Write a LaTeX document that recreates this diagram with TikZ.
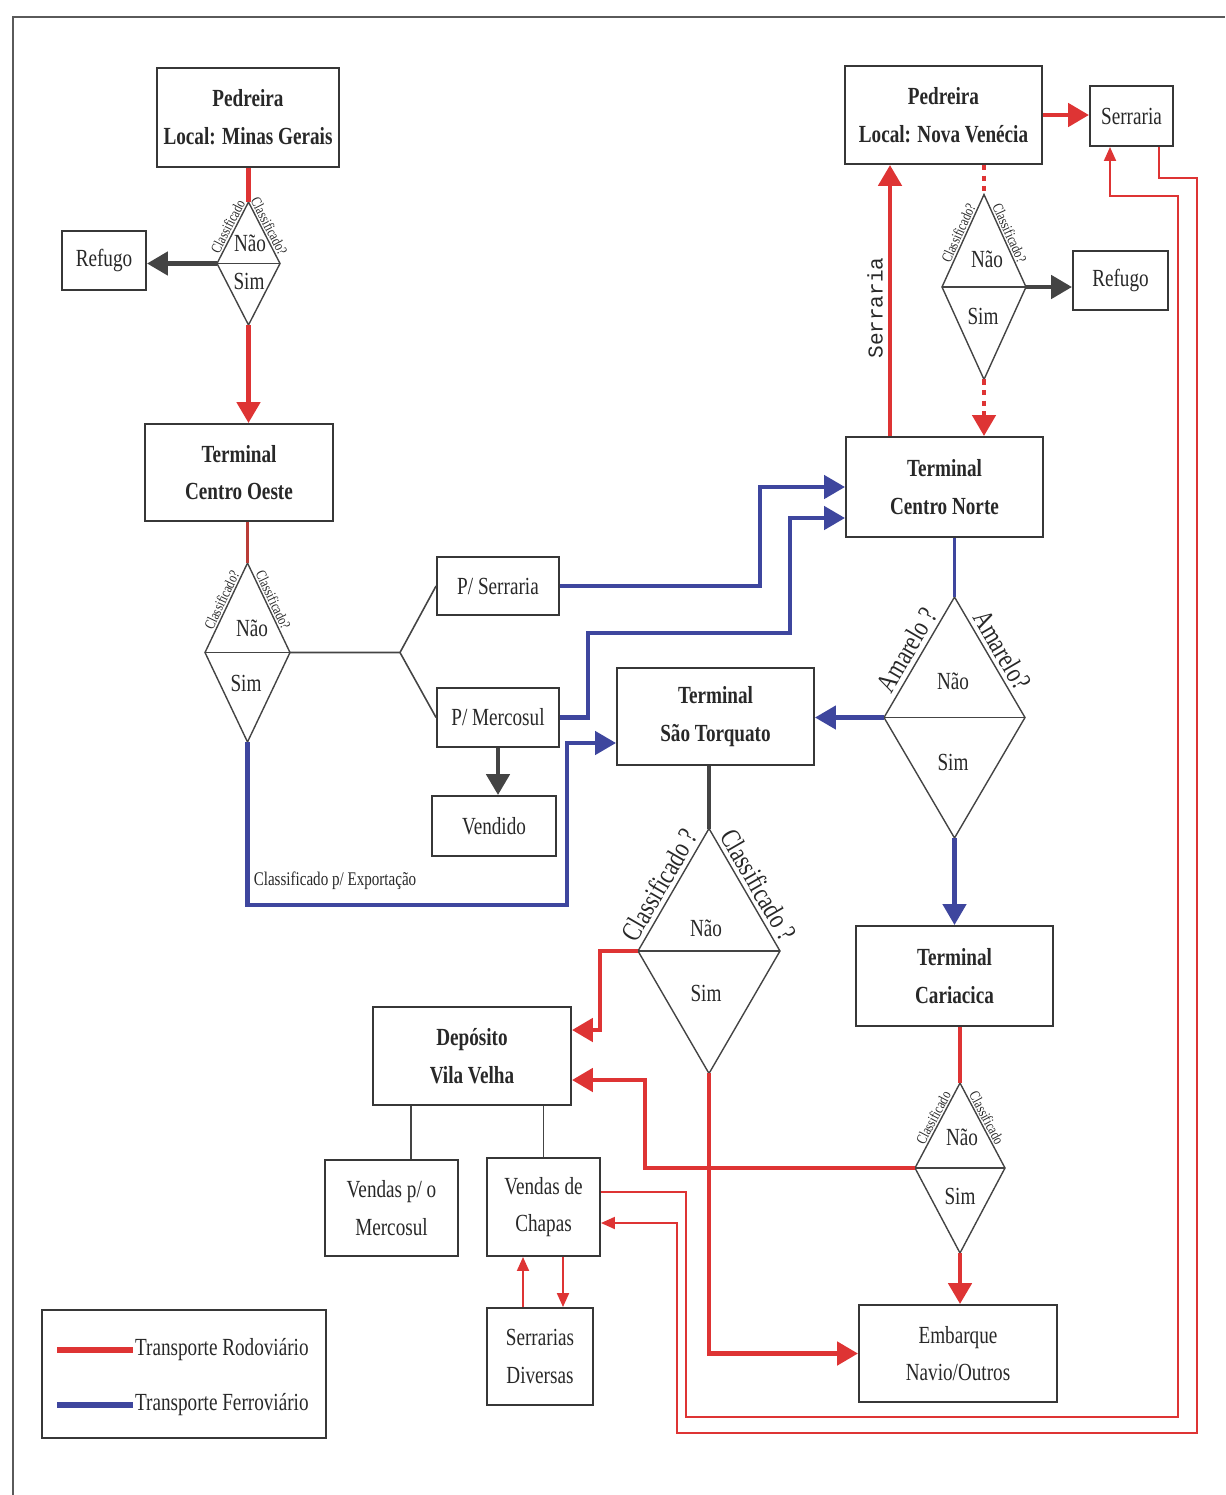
\documentclass[tikz,border=0pt]{standalone}
\usepackage{fontspec}
\setmainfont{Liberation Serif}[FakeStretch=0.78]
\newfontfamily\monof{Liberation Mono}
\usetikzlibrary{arrows.meta,shapes.geometric,calc}
\definecolor{rd}{RGB}{222,52,52}
\definecolor{bl}{RGB}{62,70,158}
\definecolor{dk}{RGB}{68,68,68}
\definecolor{bc}{RGB}{55,55,55}
\definecolor{tx}{RGB}{40,40,40}
\definecolor{fr}{RGB}{90,90,90}
\definecolor{brd}{RGB}{185,60,55}
\newcommand\msz{\fontsize{14}{21.5}\selectfont}
\newcommand\ssz{\fontsize{11}{13}\selectfont}
\newcommand\tsz{\fontsize{8.5}{10}\selectfont}
\newcommand\lsz{\fontsize{16}{18}\selectfont}
\begin{document}
\begin{tikzpicture}[x=0.02cm,y=-0.02cm,
  box/.style={draw=bc,line width=1.1pt,inner sep=0pt,align=center,text=tx,font=\msz},
  bbox/.style={box,font=\msz\bfseries},
  dia/.style={diamond,draw=dk,line width=0.8pt,inner sep=0pt,outer sep=0pt},
  lbl/.style={text=tx,font=\msz,inner sep=0pt},
  elbl/.style={text=tx,font=\tsz,inner sep=1pt,sloped,above},
  blbl/.style={text=tx,font=\lsz,inner sep=2.5pt,sloped,above},
  big/.style={-{Triangle[length=0.42cm,width=0.46cm]}},
  sml/.style={-{Triangle[length=0.28cm,width=0.24cm]}},
  redt/.style={rd,line width=2.8pt},
  bluet/.style={bl,line width=2.6pt},
  dkt/.style={dk,line width=2.8pt},
  redn/.style={rd,line width=1.1pt},
  thinl/.style={dk,line width=0.9pt}
]
\useasboundingbox (0,0) rectangle (1225,1495);
% frame
\coordinate (f1) at (13,17); \coordinate (f2) at (1225,17); \coordinate (f3) at (13,1495);
\draw[fr,line width=1.6pt] (f3) -- (f1) -- (f2);

% boxes
\node[bbox,minimum width=3.64cm,minimum height=1.98cm] (pmg) at (248,117.5) {Pedreira\\Local: Minas Gerais};
\node[box,minimum width=1.68cm,minimum height=1.18cm] (refL) at (104,260.5) {Refugo};
\node[bbox,minimum width=3.76cm,minimum height=1.94cm] (tco) at (239,472.5) {Terminal\\Centro Oeste};
\node[box,minimum width=2.44cm,minimum height=1.16cm] (pser) at (498,586) {P/ Serraria};
\node[box,minimum width=2.44cm,minimum height=1.18cm] (pmer) at (498,717.5) {P/ Mercosul};
\node[box,minimum width=2.48cm,minimum height=1.2cm] (vend) at (494,826) {Vendido};
\node[bbox,minimum width=3.94cm,minimum height=1.96cm] (pnv) at (943.5,115) {Pedreira\\Local: Nova Venécia};
\node[box,minimum width=1.66cm,minimum height=1.2cm] (serr) at (1131.5,116) {Serraria};
\node[box,minimum width=1.9cm,minimum height=1.18cm] (refR) at (1120.5,280.5) {Refugo};
\node[bbox,minimum width=3.94cm,minimum height=2cm] (tcn) at (944.5,487) {Terminal\\Centro Norte};
\node[bbox,minimum width=3.94cm,minimum height=1.94cm] (tst) at (715.5,716.5) {Terminal\\São Torquato};
\node[bbox,minimum width=3.94cm,minimum height=2cm] (tca) at (954.5,976) {Terminal\\Cariacica};
\node[bbox,minimum width=3.96cm,minimum height=1.96cm] (dep) at (472,1056) {Depósito\\Vila Velha};
\node[box,minimum width=2.66cm,minimum height=1.92cm] (vpm) at (391.5,1208) {Vendas p/ o\\Mercosul};
\node[box,minimum width=2.26cm,minimum height=1.96cm] (vch) at (543.5,1207) {Vendas de\\Chapas};
\node[box,minimum width=2.12cm,minimum height=1.94cm] (sdv) at (540,1356.5) {Serrarias\\Diversas};
\node[box,minimum width=3.96cm,minimum height=1.94cm] (emb) at (958,1353.5) {Embarque\\Navio/Outros};

% diamonds
\node[dia,minimum width=1.26cm,minimum height=2.46cm] (d1) at (248.5,263.5) {};
\node[dia,minimum width=1.7cm,minimum height=3.58cm] (d2) at (247.5,652.5) {};
\node[dia,minimum width=1.68cm,minimum height=3.7cm] (d3) at (984,287) {};
\node[dia,minimum width=2.82cm,minimum height=4.82cm] (d4) at (954.5,717.5) {};
\node[dia,minimum width=2.84cm,minimum height=4.9cm] (d5) at (709,951) {};
\node[dia,minimum width=1.8cm,minimum height=3.4cm] (d6) at (960,1168) {};
\foreach \d in {d1,d2,d3,d4,d5,d6} \draw[dk,line width=0.9pt] (\d.west) -- (\d.east);

\node[lbl] (n1) at (250,243) {Não}; \node[lbl] (s1) at (249,281) {Sim};
\node[lbl] (n2) at (252,628) {Não}; \node[lbl] (s2) at (246,683) {Sim};
\node[lbl] (n3) at (987,259) {Não}; \node[lbl] (s3) at (983,316) {Sim};
\node[lbl] (n4) at (953,681) {Não}; \node[lbl] (s4) at (953,762) {Sim};
\node[lbl] (n5) at (706,928) {Não}; \node[lbl] (s5) at (706,993) {Sim};
\node[lbl] (n6) at (962,1137) {Não}; \node[lbl] (s6) at (960,1196) {Sim};

% edge labels
\path (d1.west) -- node[elbl,pos=0.55] (e1a) {Classificado} (d1.north);
\path (d1.north) -- node[elbl,pos=0.45] (e1b) {Classificado?} (d1.east);
\path (d2.west) -- node[elbl,pos=0.55] (e2a) {Classificado?} (d2.north);
\path (d2.north) -- node[elbl,pos=0.45] (e2b) {Classificado?} (d2.east);
\path (d3.west) -- node[elbl,pos=0.55] (e3a) {Classificado?} (d3.north);
\path (d3.north) -- node[elbl,pos=0.45] (e3b) {Classificado?} (d3.east);
\path (d6.west) -- node[elbl,pos=0.55] (e6a) {Classificado} (d6.north);
\path (d6.north) -- node[elbl,pos=0.45] (e6b) {Classificado} (d6.east);
\path (d4.west) -- node[blbl,pos=0.5] (e4a) {Amarelo ?} (d4.north);
\path (d4.north) -- node[blbl,pos=0.5] (e4b) {Amarelo?} (d4.east);
\path (d5.west) -- node[blbl,pos=0.48] (e5a) {Classificado ?} (d5.north);
\path (d5.north) -- node[blbl,pos=0.52] (e5b) {Classificado ?} (d5.east);

% other labels
\node[rotate=90,font=\monof\fontsize{12}{14}\selectfont,text=tx,inner sep=0pt] (lser) at (875,308) {Serraria};
\node[font=\ssz,text=tx,inner sep=0pt] (lexp) at (335,881) {Classificado p/ Exportação};

% coordinates
\coordinate (fork) at (400,652.5);
\coordinate (b1) at (567,905);
\coordinate (bx1) at (760,487);
\coordinate (bx2) at (588,633);
\coordinate (bx3) at (790,518);
\coordinate (rx1) at (600,1030);
\coordinate (rx2) at (645,1080);
\coordinate (a1) at (686,1417);
\coordinate (a2) at (1178,196);
\coordinate (bb1) at (1197,178);
\coordinate (bb2) at (677,1433);

% connectors - left column
\draw[redt] (d1.north |- pmg.south) -- (d1.north);
\draw[redt,big] (d1.south) -- (d1.south |- tco.north);
\draw[dkt,big] (d1.west) -- (d1.west -| refL.east);
\draw[brd,line width=1.2pt] (d2.north |- tco.south) -- (d2.north);
\draw[thinl] (d2.east) -- (fork) -- (pser.west);
\draw[thinl] (fork) -- (pmer.west);
\draw[bluet,big] (d2.south) |- (b1) |- ([yshift=-0.53cm]tst.west);
\draw[bluet,big] (pser.east) -| (bx1) -- (tcn.west);
\draw[bluet,big] (pmer.east) -| (bx2) -| (bx3) -- (bx3 -| tcn.west);
\draw[dkt,big] (pmer.south) -- (pmer.south |- vend.north);

% right column
\draw[redt,big] ([xshift=-1.09cm]tcn.north) -- ([xshift=-1.09cm]tcn.north |- pnv.south);
\draw[redt,big] (pnv.east) -- (pnv.east -| serr.west);
\draw[rd,line width=2.6pt,dash pattern=on 3pt off 3pt] (d3.north |- pnv.south) -- (d3.north);
\draw[rd,line width=2.6pt,dash pattern=on 3pt off 3pt,big] (d3.south) -- (d3.south |- tcn.north);
\draw[dkt,big] (d3.east) -- (d3.east -| refR.west);
\draw[bl,line width=1.3pt] (d4.north |- tcn.south) -- (d4.north);
\draw[bluet,big] (d4.west) -- (d4.west -| tst.east);
\draw[bluet,big] (d4.south) -- (d4.south |- tca.north);
\draw[dk,line width=1.8pt] (d5.north |- tst.south) -- (d5.north);
\draw[redt,big] (d5.west) -| (rx1) -- (rx1 -| dep.east);
\draw[redt,big] (d5.south) |- (emb.west);
\draw[redt] (d6.north |- tca.south) -- (d6.north);
\draw[redt,big] (d6.west) -| (rx2) -- (rx2 -| dep.east);
\draw[redt,big] (d6.south) -- (d6.south |- emb.north);

% bottom
\draw[thinl] ([xshift=-1.22cm]dep.south) -- ([xshift=-1.22cm]dep.south |- vpm.north);
\draw[thinl] (vch.north |- dep.south) -- (vch.north);
\draw[redn,sml] ([xshift=-0.34cm]sdv.north) -- ([xshift=-0.34cm]sdv.north |- vch.south);
\draw[redn,sml] ([xshift=0.46cm]sdv.north |- vch.south) -- ([xshift=0.46cm]sdv.north);
\draw[redn,sml] ([yshift=0.3cm]vch.east) -| (a1) -| (a2) -| ([xshift=-0.43cm]serr.south);
\draw[redn,sml] ([xshift=0.55cm]serr.south) |- (bb1) |- (bb2) |- ([yshift=-0.32cm]vch.east);

% legend
\node[draw=bc,line width=1.1pt,minimum width=5.68cm,minimum height=2.56cm,inner sep=0pt] (leg) at (184,1374) {};
\coordinate (lr1) at (57,1350); \coordinate (lr2) at (133,1350);
\coordinate (lb1) at (57,1405); \coordinate (lb2) at (133,1405);
\draw[rd,line width=3.2pt] (lr1) -- (lr2);
\draw[bl,line width=3.2pt] (lb1) -- (lb2);
\node[anchor=west,font=\msz,text=tx,inner sep=1pt] (lt1) at (lr2) {Transporte Rodoviário};
\node[anchor=west,font=\msz,text=tx,inner sep=1pt] (lt2) at (lb2) {Transporte Ferroviário};
\end{tikzpicture}
\end{document}
